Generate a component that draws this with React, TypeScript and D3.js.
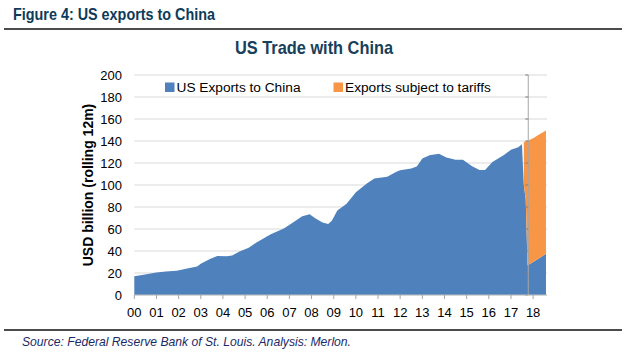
import React from "react";
import * as d3 from "d3";

const exportDates = [
  "2000-01", "2000-06", "2001-01", "2001-06", "2001-12", "2002-05", "2002-11", "2003-01",
  "2003-06", "2003-10", "2004-03", "2004-06", "2004-10", "2005-03", "2005-07", "2006-01",
  "2006-03", "2006-10", "2007-03", "2007-08", "2007-12", "2008-03", "2008-07", "2008-10",
  "2008-12", "2009-03", "2009-08", "2010-01", "2010-07", "2010-11", "2011-06", "2011-11",
  "2012-01", "2012-07", "2012-10", "2013-01", "2013-05", "2013-10", "2014-02", "2014-07",
  "2014-11", "2015-04", "2015-08", "2015-11", "2016-03", "2016-09", "2017-01", "2017-05",
  "2017-07", "2017-08", "2017-09", "2017-10", "2017-11", "2018-01", "2018-03", "2018-05",
  "2018-08",
];
const exportValues = [
  17, 18.4, 20.5, 21.3, 22, 23.8, 26, 28.5,
  32.8, 35.5, 35.2, 36, 39.5, 43, 47.5, 53.5,
  55.3, 60.5, 66, 71.5, 73.4, 69.8, 66, 64.5,
  67.6, 76.8, 83, 93.5, 101.4, 106, 107.6, 112,
  113.5, 115, 116.8, 124, 127, 128.4, 125, 123,
  123, 117, 113.6, 113.6, 121, 127, 132, 134.3,
  137, 100, 87, 27, 28, 30, 32, 34,
  37.5,
];
const tariffDates = ["2017-08", "2017-09", "2017-10", "2017-11", "2018-01", "2018-03", "2018-05", "2018-08"];
const tariffValues = [39, 52.5, 113, 113, 112.5, 112.5, 112.5, 112];

const yTicks = [0, 20, 40, 60, 80, 100, 120, 140, 160, 180, 200];
const yearLabels = ["00", "01", "02", "03", "04", "05", "06", "07", "08", "09", "10", "11", "12", "13", "14", "15", "16", "17", "18"];
const seriesNames = ["US Exports to China", "Exports subject to tariffs"];
const markerDate = "2017-10-13";

const BLUE = "#4f81bd";
const ORANGE = "#f79646";
const parseMonth = d3.timeParse("%Y-%m");

export default function App() {
  const W = 626, H = 356;
  const left = 134.3, right = 547, top = 75, bottom = 295;

  const x = d3.scaleTime()
    .domain([new Date(2000, 0, 1), new Date(2018, 7, 18)])
    .range([left, right]);
  const y = d3.scaleLinear().domain([0, 200]).range([bottom, top]);

  const blue = exportDates.map((d, i) => ({ date: parseMonth(d) as Date, v: exportValues[i] }));
  const blueMap = new Map(exportDates.map((d, i) => [d, exportValues[i]]));
  const orange = tariffDates.map((d, i) => {
    const base = blueMap.get(d) ?? 0;
    return { date: parseMonth(d) as Date, y0: base, y1: base + tariffValues[i] };
  });

  const blueArea = d3.area<{ date: Date; v: number }>()
    .x((d) => x(d.date))
    .y0(y(0))
    .y1((d) => y(d.v))(blue) || "";
  const orangeArea = d3.area<{ date: Date; y0: number; y1: number }>()
    .x((d) => x(d.date))
    .y0((d) => y(d.y0))
    .y1((d) => y(d.y1))(orange) || "";

  const years = yearLabels.map((_, i) => new Date(2000 + i, 0, 1));
  const mx = x(new Date(markerDate));

  const axisFont = "'Liberation Sans', Arial, sans-serif";

  return (
    <svg width={W} height={H} style={{ position: "absolute", left: 0, top: 0, background: "#fff" }}>
      <rect x={0} y={0} width={W} height={H} fill="#fff" />
      {/* header */}
      <text x={13} y={19.5} fontFamily="'Liberation Sans', sans-serif" fontWeight="bold" fontSize={16.5} fill="#0d3b5a"
        textLength={202} lengthAdjust="spacingAndGlyphs">
        Figure 4: US exports to China
      </text>
      <line x1={4} x2={622} y1={29} y2={29} stroke="#111" strokeWidth={1.3} />

      {/* title */}
      <text x={235} y={54} fontFamily="'Liberation Sans', sans-serif" fontWeight="bold" fontSize={19} fill="#17405a"
        textLength={158} lengthAdjust="spacingAndGlyphs">
        US Trade with China
      </text>

      {/* gridlines */}
      {yTicks.map((t) => (
        <line key={t} x1={left} x2={right} y1={y(t)} y2={y(t)} stroke="#d9d9d9" strokeWidth={1} />
      ))}

      {/* areas */}
      <path d={blueArea} fill={BLUE} />
      <path d={orangeArea} fill={ORANGE} />

      {/* marker vertical axis */}
      <line x1={mx} x2={mx} y1={top} y2={bottom} stroke="#a6a6a6" strokeWidth={1} />
      {yTicks.map((t) => (
        <line key={"m" + t} x1={mx - 3} x2={mx} y1={y(t)} y2={y(t)} stroke="#808080" strokeWidth={1} />
      ))}

      {/* x axis */}
      <line x1={left} x2={right} y1={bottom} y2={bottom} stroke="#bfbfbf" strokeWidth={1} />
      {years.map((d, i) => (
        <g key={i}>
          <line x1={x(d)} x2={x(d)} y1={bottom} y2={bottom + 4} stroke="#a6a6a6" strokeWidth={1} />
          <text x={x(d)} y={317} textAnchor="middle" fontFamily={axisFont} fontSize={13} fill="#000">
            {yearLabels[i]}
          </text>
        </g>
      ))}

      {/* y axis labels */}
      {yTicks.map((t) => (
        <text key={"y" + t} x={122} y={y(t) + 4.5} textAnchor="end" fontFamily={axisFont} fontSize={13} fill="#000">
          {t}
        </text>
      ))}
      <text
        transform={`translate(93, ${(top + bottom) / 2}) rotate(-90)`}
        textAnchor="middle"
        fontFamily={axisFont}
        fontWeight="bold"
        fontSize={14}
        fill="#000"
      >
        USD billion (rolling 12m)
      </text>

      {/* legend */}
      <rect x={165} y={82.5} width={9.5} height={9.5} fill={BLUE} />
      <text x={176.5} y={92} fontFamily={axisFont} fontSize={13.7} fill="#000">{seriesNames[0]}</text>
      <rect x={333.5} y={82.5} width={9.5} height={9.5} fill={ORANGE} />
      <text x={345} y={92} fontFamily={axisFont} fontSize={13.7} fill="#000">{seriesNames[1]}</text>

      {/* footer */}
      <line x1={4} x2={622} y1={330} y2={330} stroke="#111" strokeWidth={1.3} />
      <text x={22} y={346} fontFamily="'Liberation Sans', sans-serif" fontStyle="italic" fontSize={13} fill="#1b2a66"
        textLength={329} lengthAdjust="spacingAndGlyphs">
        Source: Federal Reserve Bank of St. Louis. Analysis: Merlon.
      </text>
    </svg>
  );
}
